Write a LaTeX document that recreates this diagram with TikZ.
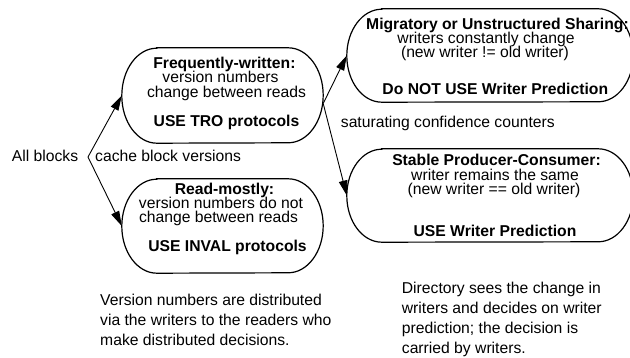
\documentclass[tikz,border=0pt]{standalone}
\usepackage{fontspec}
\setmainfont{Liberation Sans}
\usetikzlibrary{arrows.meta}
\newcommand\drawoval[2]{%
  \draw[oval] ([xshift=35pt]#1.north west) -- ([xshift=-35pt]#1.north east)
    arc[start angle=90,end angle=-90,x radius=35pt,y radius=#2]
    -- ([xshift=35pt]#1.south west)
    arc[start angle=270,end angle=90,x radius=35pt,y radius=#2] -- cycle;}
\begin{document}
\begin{tikzpicture}[x=1pt,y=1pt,
  txt/.style={inner sep=0pt, anchor=base, font=\fontsize{15.7}{16}\selectfont},
  btxt/.style={inner sep=0pt, anchor=base, font=\fontsize{15.7}{16}\selectfont\bfseries},
  ltxt/.style={txt, anchor=base west},
  box/.style={draw=none, inner sep=0pt, rectangle},
  oval/.style={line width=1.2pt, draw=black},
  conn/.style={line width=0.9pt, -{Triangle[length=15pt,width=8.5pt]}}]
\clip (0,0) rectangle (630,-358);

% boxes
\node[box, minimum width=201pt, minimum height=95pt] (f) at (222.5,-95.5) {};
\node[box, minimum width=201pt, minimum height=94pt] (r) at (222.5,-226) {};
\node[box, minimum width=286pt, minimum height=93pt] (m) at (490,-55.5) {};
\node[box, minimum width=286pt, minimum height=93pt] (s) at (490,-195.5) {};
\drawoval{f}{47.5pt}
\drawoval{r}{47pt}
\drawoval{m}{46.5pt}
\drawoval{s}{46.5pt}

% texts in boxes
\node[btxt] (f1) at (224.4,-69) {Frequently-written:};
\node[txt]  (f2) at (220.5,-83) {version numbers};
\node[txt]  (f3) at (226.5,-98) {change between reads};
\node[btxt] (f4) at (226.5,-127) {USE TRO protocols};

\node[btxt] (r1) at (224.5,-195) {Read-mostly:};
\node[txt]  (r2) at (221,-209) {version numbers do not};
\node[txt]  (r3) at (218.5,-223) {change between reads};
\node[btxt] (r4) at (227.5,-252) {USE INVAL protocols};

\node[btxt, anchor=base west] (m1) at (366,-30) {Migratory or Unstructured Sharing:};
\node[txt]  (m2) at (486,-44) {writers constantly change};
\node[txt]  (m3) at (485,-58) {(new writer != old writer)};
\node[btxt] (m4) at (495.3,-94.5) {Do NOT USE Writer Prediction};

\node[btxt] (s1) at (496.5,-166) {Stable Producer-Consumer:};
\node[txt]  (s2) at (495,-181) {writer remains the same};
\node[txt]  (s3) at (494,-195) {(new writer == old writer)};
\node[btxt] (s4) at (495,-236.5) {USE Writer Prediction};

% free labels
\node[ltxt] (all) at (11.7,-162) {All blocks};
\node[ltxt] (cbv) at (95,-162) {cache block versions};
\node[ltxt] (scc) at (340.7,-128) {saturating confidence counters};

\node[ltxt] (pa1) at (100,-305.5) {Version numbers are distributed};
\node[ltxt] (pa2) at (100,-326) {via the writers to the readers who};
\node[ltxt] (pa3) at (100,-346) {make distributed decisions.};

\node[ltxt] (pb1) at (401.7,-293.5) {Directory sees the change in};
\node[ltxt] (pb2) at (401.7,-314) {writers and decides on writer};
\node[ltxt] (pb3) at (401.7,-333.5) {prediction; the decision is};
\node[ltxt] (pb4) at (401.7,-353.5) {carried by writers.};

% connectors
\coordinate (ab) at (88,-157);
\coordinate (fr) at ([yshift=-8pt]f.east);
\draw[conn] (ab) -- (f.west);
\draw[conn] (ab) -- (r.west);
\draw[conn] (fr) -- (m.west);
\draw[conn] (fr) -- (s.west);
\end{tikzpicture}
\end{document}
